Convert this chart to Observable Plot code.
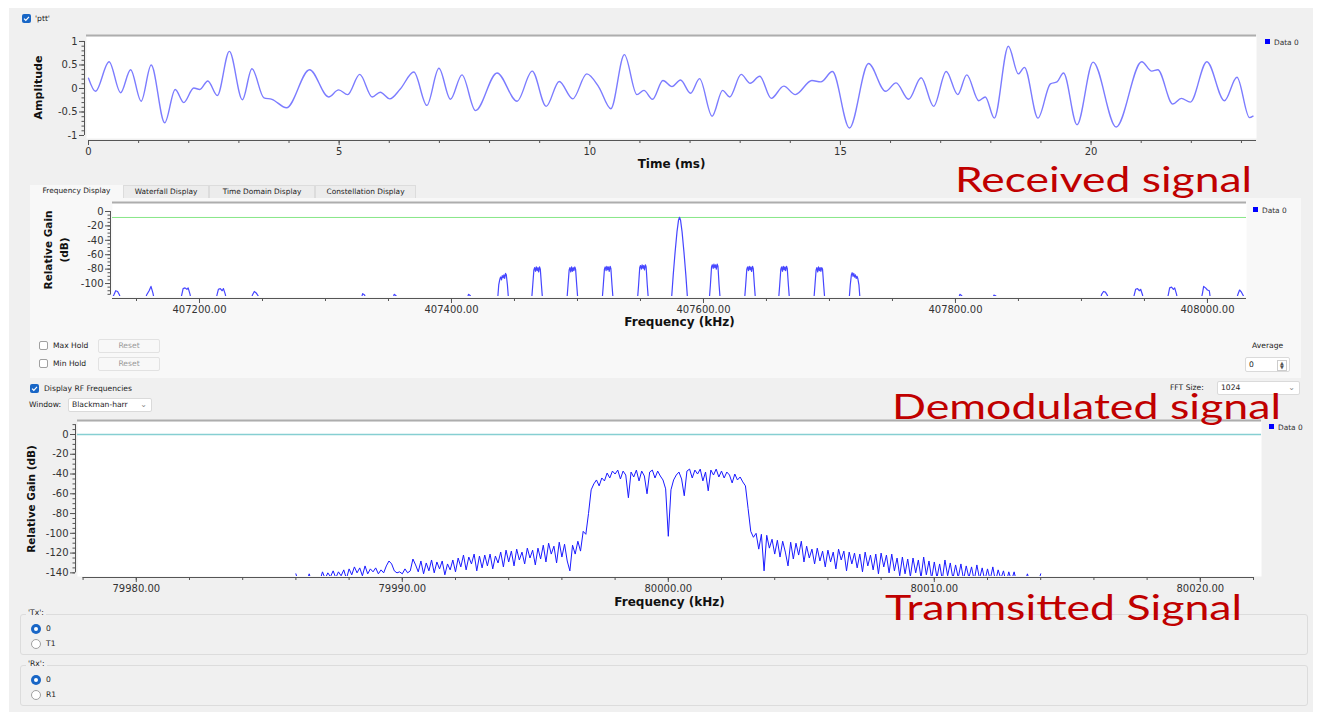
<!DOCTYPE html>
<html><head><meta charset="utf-8">
<script src="https://cdn.jsdelivr.net/npm/d3@7"></script>
<script src="https://cdn.jsdelivr.net/npm/@observablehq/plot@0.6"></script>
<style>
html,body{margin:0;padding:0;background:#fff;}
body{width:1318px;height:714px;position:relative;overflow:hidden;font-family:"DejaVu Sans",sans-serif;}
.abs{position:absolute;}
#bg{left:9px;top:8px;width:1304px;height:704px;background:#f0f0f0;}
.ui{font-size:7.6px;color:#222;white-space:nowrap;line-height:10px;}
.chk{width:9px;height:9px;border-radius:2px;box-sizing:border-box;}
.chk.on{background:#1866c6;}
.chk.off{background:#fff;border:1px solid #a0a0a0;}
.btn{background:#f8f8f8;border:1px solid #e2e2e2;box-sizing:border-box;color:#9a9a9a;text-align:center;font-size:7.6px;line-height:12px;border-radius:2px;}
.combo{background:#fff;border:1px solid #dadada;box-sizing:border-box;font-size:7.6px;line-height:12px;padding-left:3px;color:#222;border-radius:2px;}
.chev{position:absolute;right:4px;top:0;color:#888;font-size:8px;}
.tab{top:185px;height:13px;box-sizing:border-box;font-size:7.4px;line-height:12px;text-align:center;color:#222;}
.tab.off{background:#ececec;border:1px solid #dcdcdc;border-bottom:none;}
.tab.on{background:#f8f8f8;}
.grp{border:1px solid #dcdcdc;border-radius:3px;box-sizing:border-box;}
.gt{background:#f0f0f0;padding:0 2px;}
.rad{width:10px;height:10px;border-radius:50%;box-sizing:border-box;}
.rad.on{background:#1866c6;}
.rad.on::after{content:"";position:absolute;left:3px;top:3px;width:4px;height:4px;border-radius:50%;background:#fff;}
.rad.off{background:#fff;border:1px solid #a0a0a0;}
.leg{font-size:7.4px;color:#333;}
.leg i{display:inline-block;width:5px;height:5px;background:#0000ff;margin-right:4px;vertical-align:1px;}
svg{overflow:visible;}
</style>
</head><body>
<div id="bg" class="abs"></div>

<!-- ptt -->
<div class="abs chk on" style="left:22px;top:14px"><svg width="9" height="9" style="position:absolute;left:0;top:0"><path d="M2 4.6 L3.8 6.3 L7 2.8" stroke="#fff" stroke-width="1.2" fill="none"/></svg></div>
<div class="abs ui" style="left:35px;top:14px">'ptt'</div>
<div class="abs leg" style="left:1265px;top:38px"><i></i>Data 0</div>

<!-- tabs panel -->
<div class="abs" style="left:30px;top:198px;width:1271px;height:180px;background:#f8f8f8"></div>
<div class="abs tab on" style="left:30px;width:93px">Frequency Display</div>
<div class="abs tab off" style="left:123px;width:86px">Waterfall Display</div>
<div class="abs tab off" style="left:209px;width:106px">Time Domain Display</div>
<div class="abs tab off" style="left:315px;width:101px">Constellation Display</div>
<div class="abs leg" style="left:1253px;top:206px"><i></i>Data 0</div>

<div class="abs chk off" style="left:39px;top:341px"></div>
<div class="abs ui" style="left:53px;top:341px">Max Hold</div>
<div class="abs btn" style="left:98px;top:339px;width:62px;height:14px">Reset</div>
<div class="abs chk off" style="left:39px;top:359px"></div>
<div class="abs ui" style="left:53px;top:359px">Min Hold</div>
<div class="abs btn" style="left:98px;top:357px;width:62px;height:14px">Reset</div>
<div class="abs ui" style="left:1252px;top:341px">Average</div>
<div class="abs combo" style="left:1245px;top:357px;width:45px;height:15px;line-height:13px">0<span style="position:absolute;right:2px;top:2px;width:8px;height:9px;border:1px solid #ccc;font-size:5px;line-height:4px;text-align:center;color:#555">▲<br>▼</span></div>

<div class="abs chk on" style="left:30px;top:384px"><svg width="9" height="9" style="position:absolute;left:0;top:0"><path d="M2 4.6 L3.8 6.3 L7 2.8" stroke="#fff" stroke-width="1.2" fill="none"/></svg></div>
<div class="abs ui" style="left:44px;top:384px">Display RF Frequencies</div>
<div class="abs ui" style="left:1170px;top:383px">FFT Size:</div>
<div class="abs combo" style="left:1217px;top:381px;width:83px;height:14px">1024<span class="chev">⌄</span></div>
<div class="abs ui" style="left:29px;top:400px">Window:</div>
<div class="abs combo" style="left:68px;top:398px;width:84px;height:14px">Blackman-harr<span class="chev">⌄</span></div>
<div class="abs leg" style="left:1269px;top:423px"><i></i>Data 0</div>

<!-- radio groups -->
<div class="abs grp" style="left:20px;top:614px;width:1288px;height:41px"></div>
<div class="abs ui gt" style="left:26px;top:608px">'Tx':</div>
<div class="abs rad on" style="left:31px;top:624px"></div>
<div class="abs ui" style="left:46px;top:624px">0</div>
<div class="abs rad off" style="left:31px;top:639px"></div>
<div class="abs ui" style="left:46px;top:639px">T1</div>
<div class="abs grp" style="left:20px;top:665px;width:1288px;height:41px"></div>
<div class="abs ui gt" style="left:26px;top:659px">'Rx':</div>
<div class="abs rad on" style="left:31px;top:675px"></div>
<div class="abs ui" style="left:46px;top:675px">0</div>
<div class="abs rad off" style="left:31px;top:690px"></div>
<div class="abs ui" style="left:46px;top:690px">R1</div>

<div id="c1" class="abs" style="left:0;top:28px"></div>
<div id="c2" class="abs" style="left:0;top:198px"></div>
<div id="c3" class="abs" style="left:0;top:416px"></div>

<svg class="abs" style="left:0;top:0;pointer-events:none" width="1318" height="714">
  <g font-family="Lato" font-size="34" fill="#c00000">
    <text x="955" y="192" textLength="297" lengthAdjust="spacingAndGlyphs">Received signal</text>
    <text x="892" y="419" textLength="389" lengthAdjust="spacingAndGlyphs">Demodulated signal</text>
    <text x="885" y="620" textLength="357" lengthAdjust="spacingAndGlyphs">Tranmsitted Signal</text>
  </g>
</svg>

<script>
// ---------- Data ----------
// Received signal (time domain), extrema
const timeMs = [0, 0.14, 0.41, 0.64, 0.84, 1.05, 1.25, 1.52, 1.73, 1.90, 2.10, 2.22, 2.38, 2.57, 2.81, 3.07, 3.26, 3.50, 3.66, 3.95, 4.41, 4.79, 4.99, 5.17, 5.41, 5.66, 5.82, 6.01, 6.22, 6.49, 6.75, 6.99, 7.22, 7.45, 7.72, 8.15, 8.55, 8.85, 9.13, 9.39, 9.66, 9.94, 10.18, 10.42, 10.69, 10.94, 11.08, 11.25, 11.46, 11.64, 11.81, 12.01, 12.19, 12.44, 12.65, 12.79, 13.02, 13.20, 13.39, 13.62, 13.87, 14.10, 14.43, 14.61, 14.84, 15.18, 15.56, 15.90, 16.11, 16.36, 16.61, 16.86, 17.11, 17.34, 17.52, 17.76, 17.89, 18.07, 18.35, 18.55, 18.67, 18.94, 19.19, 19.32, 19.45, 19.72, 20.04, 20.50, 21.01, 21.21, 21.33, 21.63, 21.80, 21.98, 22.31, 22.66, 22.91, 23.16, 23.23];
const amplitude = [0.22, -0.06, 0.57, -0.09, 0.40, -0.27, 0.50, -0.73, -0.02, -0.30, 0.01, -0.02, 0.16, -0.15, 0.79, -0.24, 0.42, -0.20, -0.23, -0.41, 0.40, -0.18, -0.03, -0.13, 0.30, -0.18, -0.08, -0.22, -0.01, 0.35, -0.36, 0.43, -0.23, 0.29, -0.47, 0.33, -0.27, 0.37, -0.38, 0.15, -0.22, 0.31, 0.03, -0.43, 0.72, -0.13, -0.04, -0.23, 0.17, 0.04, 0.18, -0.10, 0.21, -0.59, -0.04, -0.18, 0.30, 0.11, 0.26, -0.21, 0.05, -0.13, 0.17, 0.14, 0.36, -0.84, 0.53, -0.06, 0.12, -0.23, 0.23, -0.38, 0.36, -0.13, 0.29, -0.26, -0.18, -0.63, 0.90, 0.31, 0.45, -0.63, 0.10, 0.14, 0.33, -0.77, 0.56, -0.82, 0.57, 0.37, 0.40, -0.33, -0.21, -0.29, 0.57, -0.26, 0.24, -0.62, -0.59];
const timeTicks = [0, 5, 10, 15, 20];
const ampTicks = [-1, -0.5, 0, 0.5, 1];

// Demodulated spectrum: [frequency kHz, relative gain dB]
const rxSpectrum = [
 [407128,-130],[407132,-116],[407133.5,-110],[407135,-111],[407136.5,-116],[407139,-130],
 [407156,-130],[407158,-116],[407160,-110],[407161.5,-104],[407163,-113],[407165,-130],
 [407184,-130],[407186,-115],[407187,-107],[407188.5,-106],[407190,-108],[407191,-106],[407192.5,-115],[407194,-130],
 [407212,-130],[407214,-115],[407215,-108],[407216.5,-107],[407218,-110],[407219,-107],[407220.5,-115],[407222,-130],
 [407240,-130],[407242,-116],[407243.5,-111],[407245,-113],[407246.5,-117],[407249,-130],
 [407327,-130],[407329.5,-114],[407331,-116],[407334,-130],
 [407352,-130],[407354.5,-115],[407356,-117],[407359,-130],
 [407411,-130],[407413.5,-115],[407415,-117],[407418,-130],
 [407436.5,-125],[407437.5,-102],[407438.4,-94],[407439,-91],[407439.7,-95],[407440.3,-89],[407441,-92],[407441.6,-88],[407442.2,-93],[407442.9,-86],[407443.5,-88],[407444.4,-102],[407445.4,-125],
 [407463.5,-125],[407464.5,-102],[407465.4,-81],[407466,-78],[407466.7,-83],[407467.3,-77],[407468,-82],[407468.6,-78],[407469.2,-84],[407469.9,-77],[407470.5,-80],[407471.4,-102],[407472.4,-125],
 [407491.5,-125],[407492.5,-102],[407493.4,-81],[407494,-78],[407494.7,-84],[407495.3,-77],[407496,-83],[407496.6,-78],[407497.2,-82],[407497.9,-77],[407498.5,-80],[407499.4,-102],[407500.4,-125],
 [407519.5,-125],[407520.5,-102],[407521.4,-80],[407522,-77],[407522.7,-82],[407523.3,-76],[407524,-81],[407524.6,-77],[407525.2,-83],[407525.9,-76],[407526.5,-79],[407527.4,-102],[407528.4,-125],
 [407547.5,-125],[407548.5,-102],[407549.4,-78],[407550,-75],[407550.7,-80],[407551.3,-74],[407552,-79],[407552.6,-75],[407553.2,-81],[407553.9,-74],[407554.5,-77],[407555.4,-102],[407556.4,-125],
 [407574.5,-125],[407576,-88],[407577.5,-56],[407579,-28],[407580.2,-12],[407581,-8],[407581.8,-12],[407583,-28],[407584.5,-56],[407586,-88],[407587.5,-125],
 [407604.5,-125],[407605.5,-102],[407606.4,-77],[407607,-74],[407607.7,-79],[407608.3,-73],[407609,-78],[407609.6,-74],[407610.2,-80],[407610.9,-73],[407611.5,-76],[407612.4,-102],[407613.4,-125],
 [407632.5,-125],[407633.5,-102],[407634.4,-80],[407635,-77],[407635.7,-82],[407636.3,-76],[407637,-81],[407637.6,-77],[407638.2,-83],[407638.9,-76],[407639.5,-79],[407640.4,-102],[407641.4,-125],
 [407659.5,-125],[407660.5,-102],[407661.4,-80],[407662,-77],[407662.7,-83],[407663.3,-76],[407664,-81],[407664.6,-77],[407665.2,-82],[407665.9,-76],[407666.5,-79],[407667.4,-102],[407668.4,-125],
 [407687.5,-125],[407688.5,-102],[407689.4,-81],[407690,-78],[407690.7,-84],[407691.3,-77],[407692,-82],[407692.6,-78],[407693.2,-83],[407693.9,-78],[407694.5,-80],[407695.4,-102],[407696.4,-125],
 [407715.5,-125],[407716.5,-102],[407717.4,-88],[407718,-85],[407718.7,-90],[407719.3,-86],[407720,-91],[407720.6,-88],[407721.2,-93],[407721.9,-90],[407722.5,-93],[407723.4,-102],[407724.4,-125],
 [407801,-130],[407803.5,-115],[407805,-117],[407808,-130],
 [407828,-130],[407830.5,-116],[407832,-117],[407835,-130],
 [407914,-130],[407916,-115],[407917.5,-111],[407919,-112],[407920.5,-116],[407923,-130],
 [407940,-130],[407942,-115],[407943,-108],[407944.5,-107],[407946,-110],[407947,-108],[407948.5,-116],[407950,-130],
 [407967,-130],[407969,-115],[407970,-106],[407971.5,-105],[407973,-108],[407974,-106],[407975.5,-115],[407977,-130],
 [407994,-130],[407996,-114],[407997,-104],[407998.5,-106],[408000,-109],[408001.5,-110],[408003,-130],
 [408022,-130],[408024,-116],[408025.5,-109],[408027,-112],[408028.5,-117],[408031,-130]
];
const rxFreqTicks = [407200, 407400, 407600, 407800, 408000];
const rxGainTicks = [0, -20, -40, -60, -80, -100];
const rxRefLevel = -8.3;

// Transmitted spectrum: FFT bins from 79986.0 kHz, 0.1 kHz apart
const txFirstBin = 79986.0;
const txBinWidth = 0.1;
const txGain = [
 -141,-150,-150,-150,-150,-141,-150,-150,-150,-148,
 -139,-146,-140,-144,-138,-145,-139,-143,-137,-146,
 -136,-142,-134,-140,-135,-143,-133,-141,-136,-139,
 -135,-141,-137,-140,-133,-128,-131,-138,-140,-139,
 -141,-136,-140,-138,-126,-132,-139,-128,-141,-130,
 -138,-127,-140,-129,-136,-128,-142,-131,-137,-127,
 -139,-125,-134,-122,-137,-124,-131,-121,-138,-123,
 -135,-122,-133,-121,-136,-123,-130,-119,-134,-117,
 -129,-118,-133,-116,-127,-119,-131,-115,-125,-117,
 -132,-115,-126,-112,-129,-110,-121,-113,-130,-109,
 -124,-111,-128,-138,-112,-121,-108,-118,-98,-101,
 -80,-56,-50,-46,-52,-44,-47,-39,-44,-37,
 -40,-36,-45,-37,-41,-64,-38,-43,-36,-47,
 -37,-42,-60,-38,-36,-44,-37,-42,-46,-55,
 -103,-56,-46,-41,-38,-45,-62,-37,-35,-44,
 -36,-40,-35,-47,-38,-57,-36,-41,-35,-43,
 -37,-44,-38,-41,-49,-40,-46,-43,-48,-52,
 -75,-98,-104,-100,-116,-101,-138,-102,-115,-106,
 -121,-107,-124,-108,-119,-133,-109,-126,-110,-122,
 -108,-129,-113,-125,-116,-131,-115,-128,-118,-134,
 -117,-129,-119,-136,-116,-127,-118,-138,-119,-131,
 -120,-135,-121,-139,-119,-133,-122,-137,-121,-141,
 -120,-134,-122,-140,-121,-138,-125,-143,-124,-141,
 -126,-144,-125,-140,-127,-145,-124,-142,-128,-146,
 -129,-145,-131,-147,-127,-143,-130,-146,-132,-145,
 -131,-147,-133,-145,-134,-148,-132,-146,-135,-148,
 -136,-147,-134,-149,-137,-146,-138,-150,-139,-148,
 -139,-150,-150,-150,-150,-141,-150,-150,-150,-150,
 -141
];
const txFreqTicks = [79980, 79990, 80000, 80010, 80020];
const txGainTicks = [0, -20, -40, -60, -80, -100, -120, -140];
const txRefLevel = 0;

// ---------- helpers ----------
const plain = d => String(d);
const two = d3.format(".2f");
const blank = () => "";
const baseStyle = {fontFamily: "DejaVu Sans", fontSize: "10px", color: "#333", background: "transparent", overflow: "visible"};
const labelFont = {fontFamily: "DejaVu Sans", fontWeight: "bold", fill: "#111"};
const yLabelFont = {...labelFont, textAnchor: "middle", lineAnchor: "middle"};
const range = (a, b, s) => d3.range(Math.round(a / s), Math.round(b / s) + 1).map(i => +(i * s).toFixed(6));

// ---------- Chart 1: time domain ----------
{
  const data = timeMs.map((t, i) => ({t, a: amplitude[i]}));
  const xd = [-0.04, 23.3], yd = [-1.064, 1.106];
  const p = Plot.plot({
    width: 1300, height: 150, marginLeft: 86, marginRight: 44, marginTop: 8, marginBottom: 40,
    x: {domain: xd}, y: {domain: yd}, style: baseStyle,
    marks: [
      Plot.frame({fill: "#fff", stroke: null}),
      Plot.ruleY([yd[1]], {stroke: "#adadad", strokeWidth: 2, dy: -1}),
      Plot.line(data, {x: "t", y: "a", curve: "monotone-x", stroke: "#7c7cff", strokeWidth: 1.4, clip: true}),
      Plot.ruleX([xd[0]], {y1: -1, y2: 1, dx: -2, stroke: "#555"}),
      Plot.axisY({ticks: ampTicks, tickSize: 5, dx: -2, tickPadding: 2, tickFormat: plain, label: null, stroke: "#555"}),
      Plot.axisY({ticks: range(-1, 1, 0.1), tickSize: 2.5, dx: -2, tickFormat: blank, label: null, stroke: "#555"}),
      Plot.ruleY([yd[0]], {x1: 0, x2: 23.3, dy: 2, stroke: "#555"}),
      Plot.axisX({ticks: timeTicks, tickSize: 5, dy: 2, tickPadding: 2, tickFormat: plain, label: null, stroke: "#555"}),
      Plot.axisX({ticks: range(0, 23, 1), tickSize: 3, dy: 2, tickFormat: blank, label: null, stroke: "#555"}),
      Plot.text(["Time (ms)"], {text: d => d, frameAnchor: "bottom", dy: 29, fontSize: 12, ...labelFont}),
      Plot.text(["Amplitude"], {text: d => d, frameAnchor: "left", rotate: -90, dx: -48, fontSize: 11, ...yLabelFont})
    ]
  });
  document.getElementById("c1").appendChild(p);
}

// ---------- Chart 2: demodulated spectrum ----------
{
  const data = rxSpectrum.map(([f, g]) => ({f, g}));
  const xd = [407130.95, 408031], yd = [-118, 11.1];
  const p = Plot.plot({
    width: 1300, height: 130, marginLeft: 112, marginRight: 54, marginTop: 5, marginBottom: 32,
    x: {domain: xd}, y: {domain: yd}, style: baseStyle,
    marks: [
      Plot.frame({fill: "#fff", stroke: null}),
      Plot.ruleY([yd[1]], {stroke: "#adadad", strokeWidth: 2, dy: -1}),
      Plot.ruleY([rxRefLevel], {stroke: "#55dd55", strokeOpacity: 0.7, strokeWidth: 1}),
      Plot.line(data, {x: "f", y: "g", stroke: "#4646ff", strokeWidth: 1.2, clip: true}),
      Plot.ruleX([xd[0]], {y1: -116, y2: 0, dx: -2, stroke: "#555"}),
      Plot.axisY({ticks: rxGainTicks, tickSize: 5, dx: -2, tickPadding: 2, tickFormat: plain, label: null, stroke: "#555"}),
      Plot.axisY({ticks: range(-115, 0, 5), tickSize: 2.5, dx: -2, tickFormat: blank, label: null, stroke: "#555"}),
      Plot.ruleY([yd[0]], {x1: xd[0], x2: xd[1], dy: 2, stroke: "#555"}),
      Plot.axisX({ticks: rxFreqTicks, tickSize: 5, dy: 2, tickPadding: 2, tickFormat: two, label: null, stroke: "#555"}),
      Plot.axisX({ticks: range(407150, 408000, 50), tickSize: 3, dy: 2, tickFormat: blank, label: null, stroke: "#555"}),
      Plot.text(["Frequency (kHz)"], {text: d => d, frameAnchor: "bottom", dy: 29, fontSize: 12, ...labelFont}),
      Plot.text(["Relative Gain"], {text: d => d, frameAnchor: "left", rotate: -90, dx: -64, fontSize: 10.5, ...yLabelFont}),
      Plot.text(["(dB)"], {text: d => d, frameAnchor: "left", rotate: -90, dx: -48, fontSize: 10.5, ...yLabelFont})
    ]
  });
  document.getElementById("c2").appendChild(p);
}

// ---------- Chart 3: transmitted spectrum ----------
{
  const data = txGain.map((g, i) => ({f: txFirstBin + i * txBinWidth, g}));
  const xd = [79977.79, 80022.3], yd = [-143.7, 13.16];
  const p = Plot.plot({
    width: 1300, height: 190, marginLeft: 77, marginRight: 39, marginTop: 5, marginBottom: 30,
    x: {domain: xd}, y: {domain: yd}, style: baseStyle,
    marks: [
      Plot.frame({fill: "#fff", stroke: null}),
      Plot.ruleY([yd[1]], {stroke: "#adadad", strokeWidth: 2, dy: -1}),
      Plot.ruleY([txRefLevel], {stroke: "#86cfd2", strokeWidth: 1.3}),
      Plot.line(data, {x: "f", y: "g", stroke: "#1a1aff", strokeWidth: 1, clip: true}),
      Plot.ruleX([xd[0]], {y1: -140, y2: 10, dx: -2, stroke: "#555"}),
      Plot.axisY({ticks: txGainTicks, tickSize: 5, dx: -2, tickPadding: 2, tickFormat: plain, label: null, stroke: "#555"}),
      Plot.axisY({ticks: range(-140, 10, 5), tickSize: 2.5, dx: -2, tickFormat: blank, label: null, stroke: "#555"}),
      Plot.ruleY([yd[0]], {x1: 79978, x2: 80022, dy: 1, stroke: "#555"}),
      Plot.axisX({ticks: txFreqTicks, tickSize: 5, dy: 1, tickPadding: 2, tickFormat: two, label: null, stroke: "#555"}),
      Plot.axisX({ticks: range(79978, 80022, 2), tickSize: 3, dy: 1, tickFormat: blank, label: null, stroke: "#555"}),
      Plot.text(["Frequency (kHz)"], {text: d => d, frameAnchor: "bottom", dy: 29, fontSize: 12, ...labelFont}),
      Plot.text(["Relative Gain (dB)"], {text: d => d, frameAnchor: "left", rotate: -90, dx: -46, fontSize: 10.5, ...yLabelFont})
    ]
  });
  document.getElementById("c3").appendChild(p);
}
</script>
</body></html>
